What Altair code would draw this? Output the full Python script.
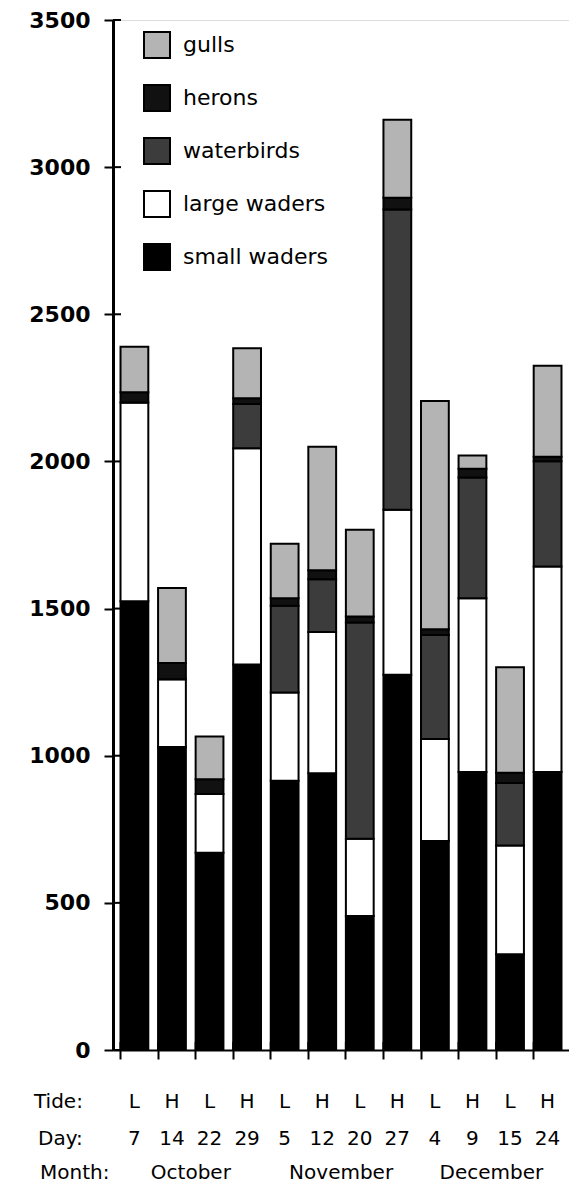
import altair as alt
import pandas as pd

# ---- data ----
tides = ["L", "H", "L", "H", "L", "H", "L", "H", "L", "H", "L", "H"]
days = ["7", "14", "22", "29", "5", "12", "20", "27", "4", "9", "15", "24"]
months = ["October"] * 4 + ["November"] * 4 + ["December"] * 4

small_waders = [1525, 1030, 670, 1310, 915, 940, 455, 1275, 710, 945, 325, 945]
large_waders = [675, 230, 200, 735, 300, 480, 263, 561, 347, 590, 370, 698]
waterbirds = [0, 0, 0, 150, 295, 180, 735, 1020, 353, 410, 212, 358]
herons = [35, 55, 50, 20, 25, 30, 20, 40, 20, 30, 35, 15]
gulls = [155, 255, 145, 170, 185, 420, 295, 265, 775, 45, 359, 309]

groups = ["gulls", "herons", "waterbirds", "large waders", "small waders"]
group_colors = ["#b4b4b4", "#111111", "#3c3c3c", "#ffffff", "#000000"]
stack_rank = {"small waders": 0, "large waders": 1, "waterbirds": 2, "herons": 3, "gulls": 4}
y_ticks = [0, 500, 1000, 1500, 2000, 2500, 3000, 3500]

month_names = ["October", "November", "December"]

# ---- tables ----
keys = [f"{d} {m[:3]}" for d, m in zip(days, months)]
series = {
    "small waders": small_waders,
    "large waders": large_waders,
    "waterbirds": waterbirds,
    "herons": herons,
    "gulls": gulls,
}
rows = []
for g, vals in series.items():
    for k, v in zip(keys, vals):
        rows.append({"key": k, "group": g, "count": v, "rank": stack_rank[g]})
df = pd.DataFrame(rows)

bars_df = pd.DataFrame({"key": keys, "tide": tides, "day": days, "month": months})
# month label anchored on the 2nd bar of each month
month_df = pd.DataFrame({
    "key": [keys[months.index(m) + 1] for m in month_names],
    "month": month_names,
})
tick_df = pd.DataFrame({"v": y_ticks})

W, H = 456, 1030
FONT = "DejaVu Sans"

xscale = alt.Scale(domain=keys, paddingInner=0.26, paddingOuter=0.2)
xaxis = alt.Axis(labels=False, title=None, bandPosition=0, tickSize=9,
                 tickWidth=2, domainWidth=2, domainColor="black", tickColor="black")
yscale = alt.Scale(domain=[0, 3500], nice=False)
yaxis = alt.Axis(values=y_ticks, format="d", title=None, grid=False, tickSize=9,
                 tickWidth=2, domainWidth=3, domainColor="black", tickColor="black",
                 labelFont=FONT, labelFontSize=22, labelFontWeight="bold",
                 labelColor="black", labelPadding=14)

bars = alt.Chart(df).mark_bar(stroke="black", strokeWidth=2).encode(
    x=alt.X("key:N", scale=xscale, axis=xaxis),
    y=alt.Y("count:Q", stack="zero", scale=yscale, axis=yaxis),
    color=alt.Color(
        "group:N",
        scale=alt.Scale(domain=groups, range=group_colors),
        legend=alt.Legend(
            title=None, orient="none", legendX=30, legendY=11, padding=0,
            symbolType="square", symbolSize=676, symbolStrokeColor="black",
            symbolStrokeWidth=2, symbolOpacity=1,
            labelFont=FONT, labelFontSize=22, labelColor="black",
            labelOffset=12, rowPadding=19,
        ),
    ),
    order=alt.Order("rank:Q", sort="ascending"),
)

# inward half of the crossing y ticks
y_inner = alt.Chart(tick_df).mark_rule(color="black", strokeWidth=2).encode(
    y=alt.Y("v:Q", scale=yscale),
    x=alt.value(0), x2=alt.value(8),
)

# inward half of the crossing x ticks
x_inner = alt.Chart(bars_df).mark_rule(color="black", strokeWidth=2).encode(
    x=alt.X("key:N", scale=xscale, bandPosition=0),
    y=alt.value(H - 8), y2=alt.value(H),
)

text_style = dict(font=FONT, fontSize=20, color="black", baseline="middle")

TIDE_Y, DAY_Y, MONTH_Y = 1082, 1119, 1153

tide_row = alt.Chart(bars_df).mark_text(**text_style).encode(
    x=alt.X("key:N", scale=xscale), y=alt.value(TIDE_Y), text="tide:N")
day_row = alt.Chart(bars_df).mark_text(**text_style).encode(
    x=alt.X("key:N", scale=xscale), y=alt.value(DAY_Y), text="day:N")
month_row = alt.Chart(month_df).mark_text(dx=5, **text_style).encode(
    x=alt.X("key:N", scale=xscale, bandPosition=1), y=alt.value(MONTH_Y), text="month:N")

def row_label(txt, xv, yv):
    return alt.Chart(pd.DataFrame({"t": [txt]})).mark_text(
        align="left", **text_style).encode(x=alt.value(xv), y=alt.value(yv), text="t:N")

labels = (row_label("Tide:", -79, TIDE_Y) + row_label("Day:", -75, DAY_Y)
          + row_label("Month:", -73, MONTH_Y))

chart = alt.layer(bars, y_inner, x_inner, tide_row, day_row, month_row, labels).properties(
    width=W, height=H,
    padding={"left": 20, "top": 1, "right": 0, "bottom": 0},
).configure_view(stroke=None).configure(background="white")

chart.save("out.html", embed_options={"renderer": "svg", "actions": False})
